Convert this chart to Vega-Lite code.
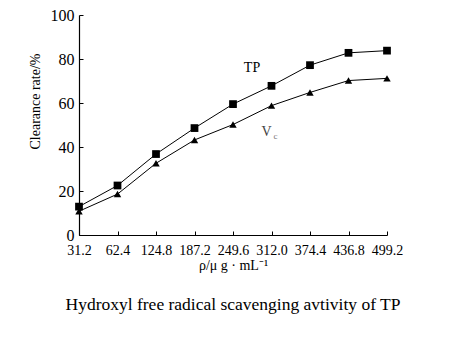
{
  "$schema": "https://vega.github.io/schema/vega-lite/v6.json",
  "autosize": {"type": "none"},
  "width": 308,
  "height": 220,
  "padding": {"left": 79, "top": 15, "right": 66, "bottom": 114},
  "background": "white",
  "config": {
    "font": "Liberation Serif",
    "view": {"stroke": null},
    "axis": {"grid": false, "domainColor": "black", "tickColor": "black", "labelColor": "black", "titleColor": "black", "labelFont": "Liberation Serif", "titleFont": "Liberation Serif", "titleFontWeight": "normal"}
  },
  "title": {"text": "Hydroxyl free radical scavenging avtivity of TP", "orient": "bottom", "offset": 24, "fontSize": 17.5, "font": "Liberation Serif", "fontWeight": "normal", "color": "black", "dx": 0},
  "datasets": {
    "series": [
      {"conc": "31.2", "series": "TP", "rate": 12.9},
      {"conc": "62.4", "series": "TP", "rate": 22.5},
      {"conc": "124.8", "series": "TP", "rate": 36.8},
      {"conc": "187.2", "series": "TP", "rate": 48.6},
      {"conc": "249.6", "series": "TP", "rate": 59.5},
      {"conc": "312.0", "series": "TP", "rate": 67.8},
      {"conc": "374.4", "series": "TP", "rate": 77.2},
      {"conc": "436.8", "series": "TP", "rate": 82.8},
      {"conc": "499.2", "series": "TP", "rate": 83.8},
      {"conc": "31.2", "series": "Vc", "rate": 10.8},
      {"conc": "62.4", "series": "Vc", "rate": 18.6},
      {"conc": "124.8", "series": "Vc", "rate": 32.6},
      {"conc": "187.2", "series": "Vc", "rate": 43.2},
      {"conc": "249.6", "series": "Vc", "rate": 50.2},
      {"conc": "312.0", "series": "Vc", "rate": 58.8},
      {"conc": "374.4", "series": "Vc", "rate": 64.8},
      {"conc": "436.8", "series": "Vc", "rate": 70.2},
      {"conc": "499.2", "series": "Vc", "rate": 71.2}
    ]
  },
  "encoding": {
    "x": {"field": "conc", "type": "ordinal", "sort": null,
      "scale": {"type": "point", "padding": 0, "domain": ["31.2","62.4","124.8","187.2","249.6","312.0","374.4","436.8","499.2"]},
      "axis": {"title": "ρ/μ g · mL⁻¹", "labelAngle": 0, "labelFontSize": 14, "titleFontSize": 14, "tickSize": -4, "labelPadding": 12, "titlePadding": 1, "domainWidth": 1.2}},
    "y": {"field": "rate", "type": "quantitative",
      "scale": {"domain": [0, 100], "nice": false},
      "axis": {"title": "Clearance rate/%", "values": [0,20,40,60,80,100], "labelFontSize": 16, "titleFontSize": 14, "tickSize": -4, "labelPadding": 9, "titlePadding": 8, "titleY": 86, "domainWidth": 1.2}}
  },
  "layer": [
    {"data": {"name": "series"}, "mark": {"type": "line", "color": "black", "strokeWidth": 1}, "encoding": {"detail": {"field": "series"}}},
    {"data": {"name": "series"}, "transform": [{"filter": "datum.series === 'TP'"}], "mark": {"type": "point", "shape": "square", "filled": true, "color": "black", "opacity": 1, "size": 60}},
    {"data": {"name": "series"}, "transform": [{"filter": "datum.series === 'Vc'"}], "mark": {"type": "point", "shape": "triangle-up", "filled": true, "color": "black", "opacity": 1, "size": 55}},
    {"data": {"values": [{"conc": "249.6", "rate": 76, "label": "TP"}]}, "mark": {"type": "text", "fontSize": 14, "color": "black", "dx": 19, "baseline": "middle"}, "encoding": {"text": {"field": "label"}}},
    {"data": {"values": [{"conc": "312.0", "rate": 47, "label": "V"}]}, "mark": {"type": "text", "fontSize": 14, "color": "#444444", "dx": -5, "baseline": "middle"}, "encoding": {"text": {"field": "label"}}},
    {"data": {"values": [{"conc": "312.0", "rate": 45, "label": "c"}]}, "mark": {"type": "text", "fontSize": 9, "color": "#777777", "dx": 4, "baseline": "middle"}, "encoding": {"text": {"field": "label"}}}
  ]
}
